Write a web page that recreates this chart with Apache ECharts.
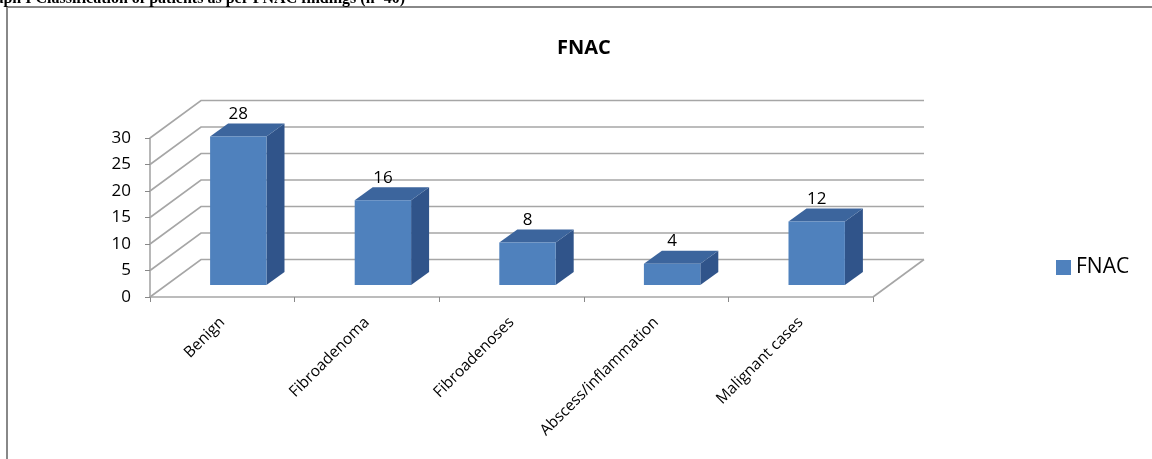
<!DOCTYPE html>
<html>
<head>
<meta charset="utf-8">
<title>FNAC</title>
<script src="https://cdn.jsdelivr.net/npm/echarts@6/dist/echarts.min.js"></script>
<style>
  html, body { margin: 0; padding: 0; background: #fff; }
  #main { width: 1152px; height: 459px; }
</style>
</head>
<body>
<div id="main"></div>
<script>
// data
var categories = ['Benign', 'Fibroadenoma', 'Fibroadenoses', 'Abscess/inflammation', 'Malignant cases'];
var fnacValues = [28, 16, 8, 4, 12];
var yTicks = [0, 5, 10, 15, 20, 25, 30];

var FONT = '"Open Sans", "Noto Sans", sans-serif';

// 3d look: offset of the bar plane, the bar depth and the back wall
var barOff = [16, -12];
var barDepth = [18, -13];
var wallOff = [51, -37.5];
var gridColor = '#a6a6a6';

var myChart = echarts.init(document.getElementById('main'));

function renderWalls(params, api) {
  var cs = params.coordSys;
  var y = api.coord([0, api.value(1)])[1];
  var x0 = cs.x, x1 = cs.x + cs.width;
  var children = [{
    type: 'polyline',
    shape: { points: [[x0, y], [x0 + wallOff[0], y + wallOff[1]], [x1 + wallOff[0], y + wallOff[1]]] },
    style: { stroke: gridColor, lineWidth: 1.6, fill: null }
  }];
  if (api.value(1) === 0) {
    children.push({
      type: 'line',
      shape: { x1: x1, y1: y, x2: x1 + wallOff[0], y2: y + wallOff[1] },
      style: { stroke: gridColor, lineWidth: 1.6 }
    });
  }
  return { type: 'group', children: children };
}

function renderBar(params, api) {
  var idx = api.value(0);
  var val = api.value(1);
  var base = api.coord([idx, 0]);
  var top = api.coord([idx, val]);
  var band = api.size([1, 0])[0];
  var w = band * 0.39;
  var cx = base[0] + barOff[0];
  var xl = cx - w / 2, xr = cx + w / 2;
  var yb = base[1] + barOff[1], yt = top[1] + barOff[1];
  var dx = barDepth[0], dy = barDepth[1];
  return {
    type: 'group',
    children: [
      { type: 'polygon', shape: { points: [[xr, yt], [xr + dx, yt + dy], [xr + dx, yb + dy], [xr, yb]] },
        style: { fill: '#30548a' } },
      { type: 'polygon', shape: { points: [[xl, yt], [xl + dx, yt + dy], [xr + dx, yt + dy], [xr, yt]] },
        style: { fill: '#3c659d' } },
      { type: 'rect', shape: { x: xl, y: yt, width: w, height: yb - yt },
        style: { fill: '#4f81bd' } },
      { type: 'text', x: cx, y: yt + dy - 1,
        style: { text: String(val), fill: '#000', font: '17px ' + FONT, align: 'center', verticalAlign: 'bottom' } }
    ]
  };
}

var option = {
  animation: false,
  backgroundColor: '#fff',
  title: {
    text: 'FNAC',
    left: 552,
    top: 33,
    textStyle: { fontFamily: FONT, fontSize: 20, fontWeight: 'bold', color: '#000' }
  },
  legend: {
    data: ['FNAC'],
    left: 1051,
    top: 252,
    icon: 'rect',
    itemWidth: 15,
    itemHeight: 15,
    itemGap: 6,
    textStyle: { fontFamily: FONT, fontSize: 21, color: '#000' }
  },
  grid: { left: 150, right: 279, top: 138, bottom: 162 },
  xAxis: {
    type: 'category',
    data: categories,
    axisLine: { lineStyle: { color: gridColor, width: 1.6 } },
    axisTick: { show: true, length: 5, lineStyle: { color: '#888' } },
    axisLabel: { rotate: 45, fontFamily: FONT, fontSize: 15.5, color: '#000', margin: 23, interval: 0 },
    splitLine: { show: false }
  },
  yAxis: {
    type: 'value',
    min: 0,
    max: 30,
    interval: 5,
    axisLine: { show: true, lineStyle: { color: gridColor, width: 1.6 } },
    axisTick: { show: true, length: 5, lineStyle: { color: '#888' } },
    axisLabel: { fontFamily: FONT, fontSize: 17, color: '#000', margin: 19 },
    splitLine: { show: false }
  },
  graphic: [
    { type: 'rect', shape: { x: 7, y: 7, width: 1300, height: 600 },
      style: { fill: null, stroke: '#888', lineWidth: 2 }, silent: true },
    { type: 'text', x: 405, y: 6.5,
      style: { text: 'Graph I Classification of patients as per FNAC findings (n=40)',
        font: 'bold 16px "Liberation Serif", serif', fill: '#000', align: 'right', verticalAlign: 'bottom' } }
  ],
  series: [
    {
      name: 'walls',
      type: 'custom',
      renderItem: renderWalls,
      data: yTicks.map(function (v) { return [0, v]; }),
      z: 1,
      silent: true
    },
    {
      name: 'FNAC',
      type: 'custom',
      renderItem: renderBar,
      itemStyle: { color: '#4f81bd' },
      data: fnacValues.map(function (v, i) { return [i, v]; }),
      z: 3
    }
  ]
};

myChart.setOption(option);
</script>
</body>
</html>
